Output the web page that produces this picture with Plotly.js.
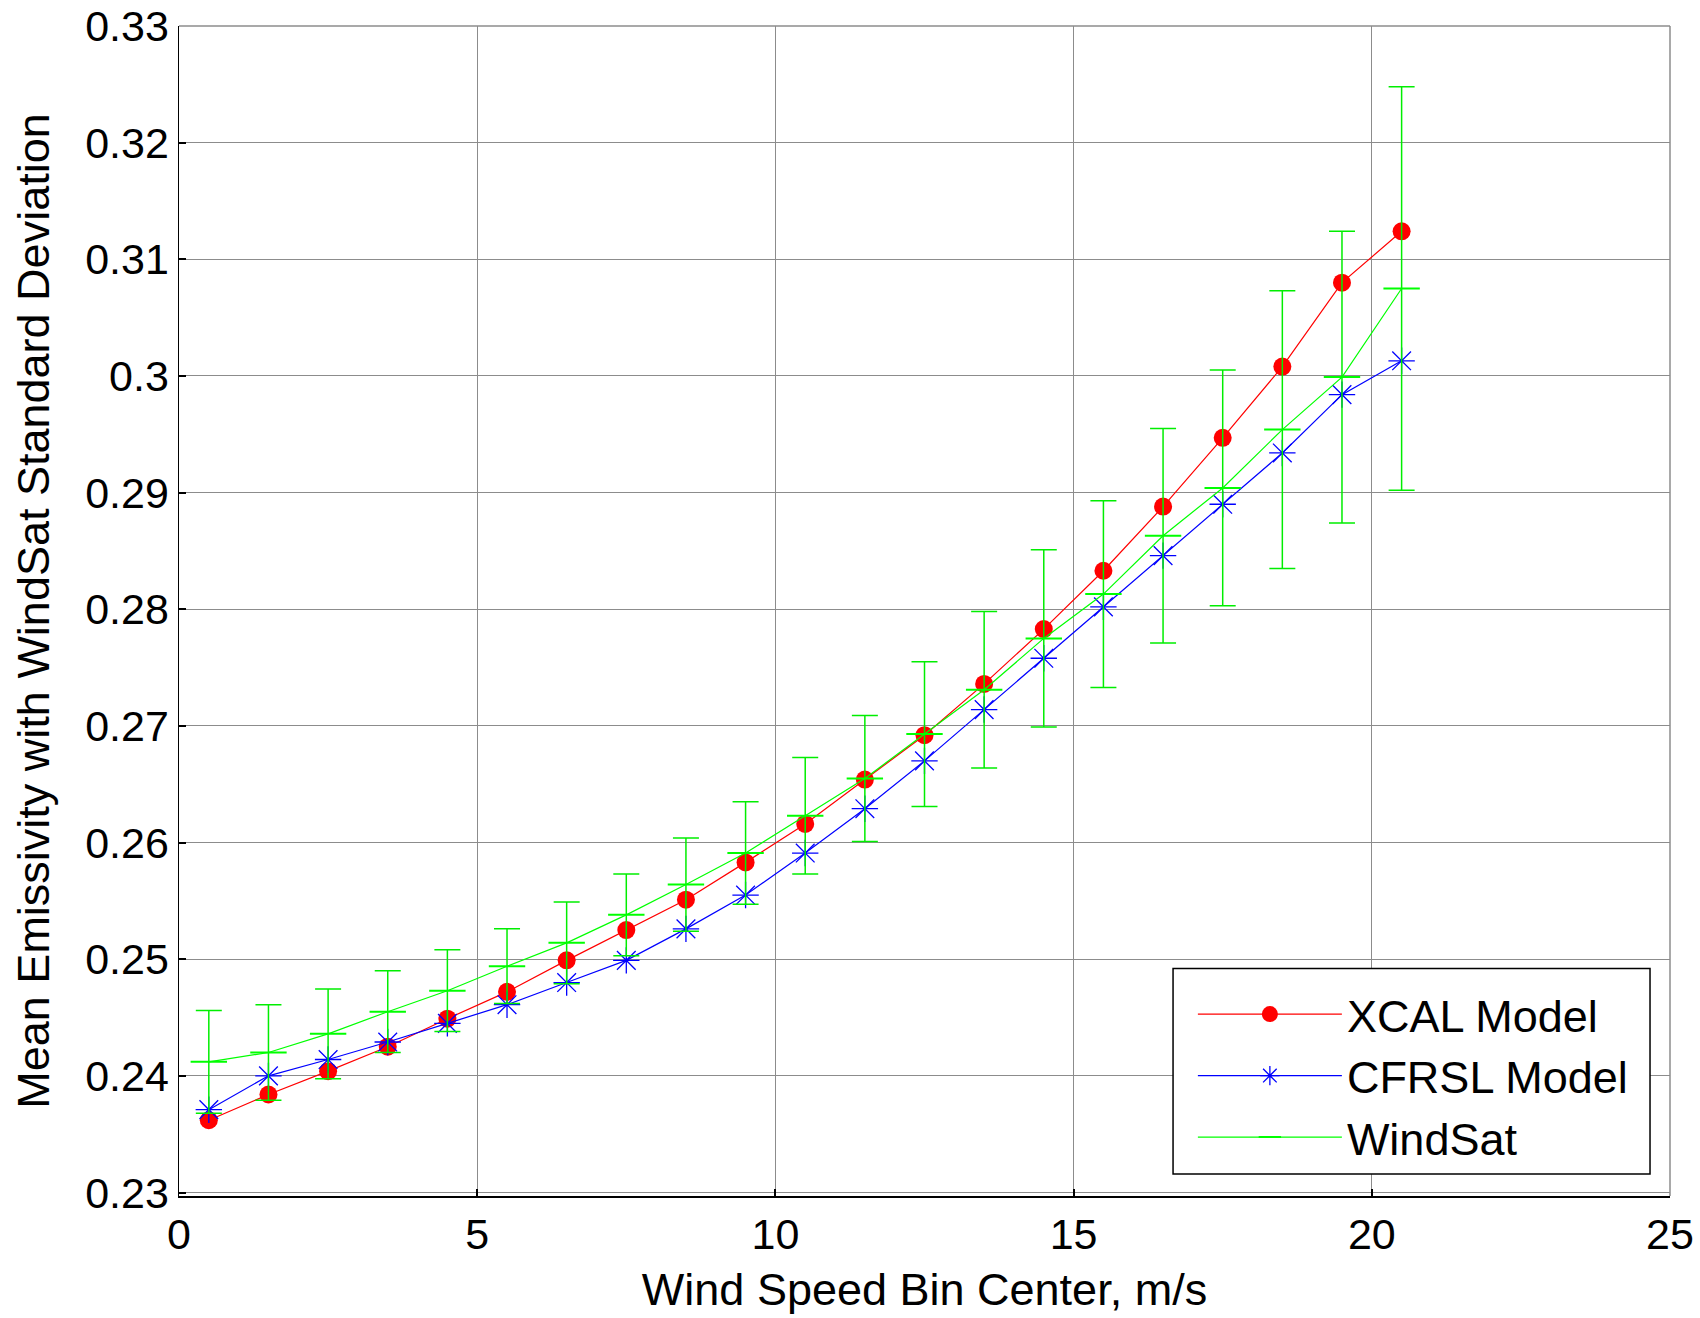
<!DOCTYPE html>
<html>
<head>
<meta charset="utf-8">
<script src="https://cdn.plot.ly/plotly-3.0.1.min.js"></script>
<style>html,body{margin:0;padding:0;background:#fff;}</style>
</head>
<body>
<div id="chart" style="width:1700px;height:1318px;"></div>
<script>
// Wind speed bin centers (m/s)
const windBins = [0.5,1.5,2.5,3.5,4.5,5.5,6.5,7.5,8.5,9.5,10.5,11.5,12.5,13.5,14.5,15.5,16.5,17.5,18.5,19.5,20.5];
// XCAL Model mean emissivity
const xcalModel = [0.2362,0.2384,0.2404,0.2425,0.2449,0.2472,0.2499,0.2525,0.2551,0.2583,0.2616,0.2654,0.2692,0.2736,0.2783,0.2833,0.2888,0.2947,0.3008,0.3080,0.3124];
// CFRSL Model mean emissivity
const cfrslModel = [0.2371,0.2400,0.2414,0.2429,0.2445,0.2461,0.2480,0.2499,0.2526,0.2555,0.2591,0.2629,0.2670,0.2714,0.2758,0.2802,0.2846,0.2890,0.2934,0.2984,0.3013];
// WindSat mean emissivity
const windsatMean = [0.2412,0.2420,0.2436,0.2455,0.2473,0.2494,0.2514,0.2538,0.2564,0.2591,0.2623,0.2655,0.2693,0.2731,0.2775,0.2813,0.2863,0.2904,0.2954,0.2999,0.3075];
// WindSat standard deviation
const windsatStd = [0.0044,0.0041,0.00385,0.0035,0.0035,0.0032,0.0035,0.0035,0.0040,0.0044,0.0050,0.0054,0.0062,0.0067,0.0076,0.0080,0.0092,0.0101,0.0119,0.0125,0.0173];

const yTickVals = [0.23,0.24,0.25,0.26,0.27,0.28,0.29,0.3,0.31,0.32,0.33];
const yTickText = ["0.23","0.24","0.25","0.26","0.27","0.28","0.29","0.3","0.31","0.32","0.33"];
const xTickVals = [0,5,10,15,20,25];
const xTickText = ["0","5","10","15","20","25"];

const FONT = 'Arial, "Liberation Sans", sans-serif';

const traces = [
  {
    x: windBins, y: xcalModel, name: 'XCAL Model', type: 'scatter', mode: 'lines+markers',
    line: {color: '#ff0000', width: 1.2},
    marker: {symbol: 'circle', size: 18, color: '#ff0000'}
  },
  {
    x: windBins, y: cfrslModel, name: 'CFRSL Model', type: 'scatter', mode: 'lines+markers',
    line: {color: '#0000ff', width: 1.2},
    marker: {symbol: 'asterisk-open', size: 22, color: '#0000ff', line: {color: '#0000ff', width: 1.3}}
  },
  {
    x: windBins, y: windsatMean, name: 'WindSat', type: 'scatter', mode: 'lines+markers',
    line: {color: '#00ff00', width: 1.2},
    marker: {symbol: 'line-ew-open', size: 26, color: '#00ff00', line: {color: '#55ee55', width: 2}},
    error_y: {type: 'data', array: windsatStd, visible: true, color: '#00ee00', thickness: 1.5, width: 13}
  }
];

const layout = {
  width: 1700, height: 1318,
  paper_bgcolor: '#ffffff', plot_bgcolor: '#ffffff',
  margin: {l: 179, r: 30, t: 26, b: 122},
  font: {family: FONT, color: '#000000', size: 43},
  showlegend: true,
  legend: {
    x: 0.680, y: 0.1027, xanchor: 'left', yanchor: 'middle',
    bgcolor: 'rgba(0,0,0,0)', borderwidth: 0,
    font: {family: FONT, size: 45, color: '#000000'},
    itemwidth: 144, tracegroupgap: 0
  },
  xaxis: {
    range: [0, 25], tickvals: xTickVals, ticktext: xTickText,
    showgrid: true, gridcolor: '#8c8c8c', gridwidth: 1,
    zeroline: false, showline: true, linecolor: '#000000', linewidth: 1.5,
    ticks: 'inside', ticklen: 7, tickwidth: 2, tickcolor: '#000000',
    ticklabeloverflow: 'allow',
    tickfont: {family: FONT, size: 43, color: '#000000'},
    title: {text: 'Wind Speed Bin Center, m/s', font: {family: FONT, size: 45, color: '#000000'}, standoff: 16}
  },
  yaxis: {
    range: [0.2297, 0.33], tickvals: yTickVals, ticktext: yTickText,
    showgrid: true, gridcolor: '#8c8c8c', gridwidth: 1,
    zeroline: false, showline: true, linecolor: '#000000', linewidth: 1.5,
    ticks: 'inside', ticklen: 7, tickwidth: 2, tickcolor: '#000000',
    ticklabeloverflow: 'allow',
    tickfont: {family: FONT, size: 43, color: '#000000'},
    title: {text: 'Mean Emissivity with WindSat Standard Deviation', font: {family: FONT, size: 45, color: '#000000'}, standoff: 21}
  },
  shapes: [
    {type: 'line', xref: 'paper', yref: 'paper', x0: 1, x1: 1, y0: 0, y1: 1, line: {color: '#8c8c8c', width: 1.5}},
    {type: 'line', xref: 'paper', yref: 'paper', x0: 0, x1: 1, y0: 1, y1: 1, line: {color: '#8c8c8c', width: 1.5}},
    {type: 'rect', xref: 'paper', yref: 'paper', x0: 0.6667, x1: 0.9866, y0: 0.0188, y1: 0.1944,
     layer: 'above', fillcolor: '#ffffff', line: {color: '#000000', width: 1.5}}
  ]
};

Plotly.newPlot('chart', traces, layout, {displayModeBar: false, staticPlot: true});
</script>
</body>
</html>
